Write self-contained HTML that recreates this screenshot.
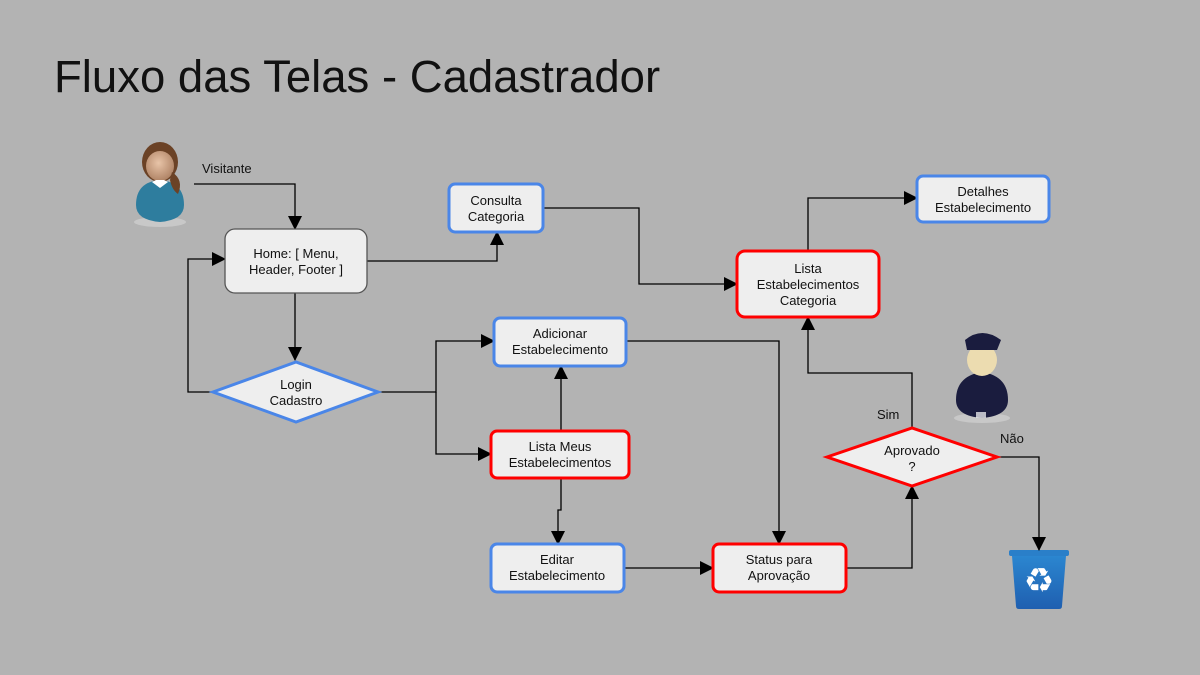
<!DOCTYPE html>
<html><head><meta charset="utf-8"><style>
html,body{margin:0;padding:0;background:#b3b3b3;}
svg{display:block;font-family:"Liberation Sans",sans-serif;}
</style></head><body>
<svg width="1200" height="675" viewBox="0 0 1200 675" xmlns="http://www.w3.org/2000/svg">
<defs>
<marker id="a" markerWidth="14" markerHeight="14" refX="13" refY="7" orient="auto" markerUnits="userSpaceOnUse">
<path d="M0,0 L14,7 L0,14 z" fill="#000"/></marker>
<radialGradient id="skin" cx="0.45" cy="0.4" r="0.6"><stop offset="0" stop-color="#e8c4a8"/><stop offset="1" stop-color="#b08466"/></radialGradient>
<linearGradient id="bin" x1="0" y1="0" x2="0" y2="1"><stop offset="0" stop-color="#2b86d0"/><stop offset="1" stop-color="#1f5fb0"/></linearGradient>
</defs>
<rect width="1200" height="675" fill="#b3b3b3"/>
<text x="54" y="92" font-size="45.5" fill="#111">Fluxo das Telas - Cadastrador</text>

<!-- woman icon -->
<ellipse cx="160" cy="222" rx="26" ry="5" fill="#c8c8c8"/>
<path d="M136,205 Q136,182 160,180 Q184,182 184,205 Q184,220 160,222 Q136,220 136,205z" fill="#2e7d9e"/>
<ellipse cx="160" cy="162" rx="18" ry="20" fill="#6b4226"/>
<ellipse cx="160" cy="166" rx="14" ry="15" fill="url(#skin)"/>
<path d="M172,172 Q184,180 178,194 Q172,190 170,180z" fill="#6b4226"/>
<path d="M152,182 L160,188 L168,182 L164,180 L156,180z" fill="#fff"/>

<!-- policeman -->
<ellipse cx="982" cy="418" rx="28" ry="5" fill="#c8c8c8"/>
<path d="M956,400 Q956,376 982,372 Q1008,376 1008,400 Q1008,416 982,418 Q956,416 956,400z" fill="#1a1c3e"/>
<ellipse cx="982" cy="360" rx="15" ry="16" fill="#ecdcb0"/>
<path d="M965,340 Q982,326 1001,340 L997,350 L967,350z" fill="#1a1c3e"/>
<rect x="976" y="412" width="10" height="6" fill="#fff" opacity="0.7"/>

<!-- recycle bin -->
<rect x="1009" y="550" width="60" height="6" rx="2" fill="#2a7fc9"/>
<path d="M1012,556 L1066,556 L1062,606 Q1062,609 1059,609 L1019,609 Q1016,609 1016,606z" fill="url(#bin)"/>
<text x="1039" y="592" font-size="34" fill="#fff" text-anchor="middle">♻</text>

<g fill="none" stroke="#000" stroke-width="1.3">
<path d="M194,184 H295 V229" marker-end="url(#a)"/>
<path d="M367,261 H497 V232" marker-end="url(#a)"/>
<path d="M295,293 V360" marker-end="url(#a)"/>
<path d="M213,392 H188 V259 H225" marker-end="url(#a)"/>
<path d="M378,392 H436 V341 H494" marker-end="url(#a)"/>
<path d="M436,392 V454 H491" marker-end="url(#a)"/>
<path d="M561,431 V366" marker-end="url(#a)"/>
<path d="M561,478 V510 H558 V544" marker-end="url(#a)"/>
<path d="M543,208 H639 V284 H737" marker-end="url(#a)"/>
<path d="M808,251 V198 H917" marker-end="url(#a)"/>
<path d="M626,341 H779 V544" marker-end="url(#a)"/>
<path d="M624,568 H713" marker-end="url(#a)"/>
<path d="M846,568 H912 V486" marker-end="url(#a)"/>
<path d="M912,428 V373 H808 V317" marker-end="url(#a)"/>
<path d="M997,457 H1039 V550" marker-end="url(#a)"/>
</g>

<g fill="#eeeeee">
<rect x="225" y="229" width="142" height="64" rx="10" stroke="#555" stroke-width="1.3"/>
<rect x="449" y="184" width="94" height="48" rx="6" stroke="#4a86e8" stroke-width="3"/>
<rect x="917" y="176" width="132" height="46" rx="6" stroke="#4a86e8" stroke-width="3"/>
<rect x="737" y="251" width="142" height="66" rx="8" stroke="#ff0000" stroke-width="3"/>
<rect x="494" y="318" width="132" height="48" rx="6" stroke="#4a86e8" stroke-width="3"/>
<rect x="491" y="431" width="138" height="47" rx="6" stroke="#ff0000" stroke-width="3"/>
<rect x="491" y="544" width="133" height="48" rx="6" stroke="#4a86e8" stroke-width="3"/>
<rect x="713" y="544" width="133" height="48" rx="6" stroke="#ff0000" stroke-width="3"/>
<path d="M213,392 L296,362 L378,392 L296,422z" stroke="#4a86e8" stroke-width="3"/>
<path d="M827,457 L912,428 L997,457 L912,486z" stroke="#ff0000" stroke-width="3"/>
</g>

<g font-size="13" fill="#111" text-anchor="middle">
<text x="296" y="258">Home: [ Menu,</text>
<text x="296" y="274">Header,  Footer ]</text>
<text x="496" y="205">Consulta</text>
<text x="496" y="221">Categoria</text>
<text x="983" y="196">Detalhes</text>
<text x="983" y="212">Estabelecimento</text>
<text x="808" y="273">Lista</text>
<text x="808" y="289">Estabelecimentos</text>
<text x="808" y="305">Categoria</text>
<text x="560" y="338">Adicionar</text>
<text x="560" y="354">Estabelecimento</text>
<text x="560" y="451">Lista Meus</text>
<text x="560" y="467">Estabelecimentos</text>
<text x="557" y="564">Editar</text>
<text x="557" y="580">Estabelecimento</text>
<text x="779" y="564">Status para</text>
<text x="779" y="580">Aprovação</text>
<text x="296" y="389">Login</text>
<text x="296" y="405">Cadastro</text>
<text x="912" y="455">Aprovado</text>
<text x="912" y="471">?</text>
</g>
<g font-size="13" fill="#111">
<text x="202" y="173">Visitante</text>
<text x="877" y="419">Sim</text>
<text x="1000" y="443">Não</text>
</g>
</svg>
</body></html>
